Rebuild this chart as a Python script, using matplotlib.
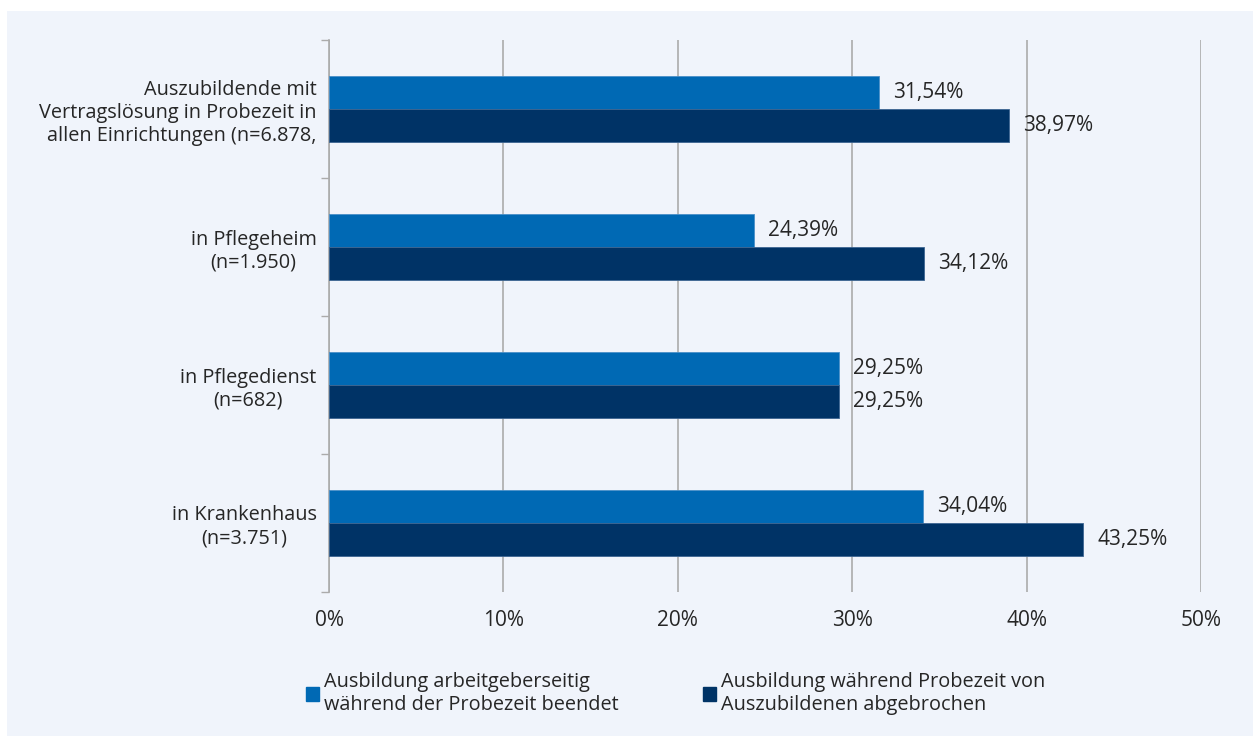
import matplotlib
matplotlib.use("Agg")
import matplotlib.pyplot as plt
from matplotlib.patches import Rectangle, Patch

# categories (top to bottom)
categories = [
    "Auszubildende mit\nVertragslösung in Probezeit in\nallen Einrichtungen (n=6.878,",
    "in Pflegeheim\n(n=1.950)",
    "in Pflegedienst\n(n=682)",
    "in Krankenhaus\n(n=3.751)",
]
employer_ended = [31.54, 24.39, 29.25, 34.04]
trainee_quit = [38.97, 34.12, 29.25, 43.25]
series_names = [
    "Ausbildung arbeitgeberseitig\nwährend der Probezeit beendet",
    "Ausbildung während Probezeit von\nAuszubildenen abgebrochen",
]
x_ticks = [0, 10, 20, 30, 40, 50]

light_blue = "#0069B4"
dark_blue = "#003366"
panel = "#F0F4FB"
text_col = "#262626"
grid_col = "#ABABAB"
fs = 14.3

plt.rcParams['font.family'] = ['Open Sans', 'DejaVu Sans']

fig = plt.figure(figsize=(12.53, 7.36), dpi=100)
fig.patch.set_facecolor("white")
# light panel behind everything
fig.patches.append(Rectangle((7 / 1253, 0), 1, 1 - 11 / 736, transform=fig.transFigure,
                             facecolor=panel, edgecolor="none", zorder=-10))

ax = fig.add_axes([329 / 1253, 1 - 592 / 736, (1201 - 329) / 1253, (592 - 40) / 736])
ax.set_facecolor("none")
ax.set_zorder(1)

h = 0.24
pos = list(range(len(categories)))
top = [p - h / 2 for p in pos]
bot = [p + h / 2 for p in pos]
b1 = ax.barh(top, employer_ended, height=h, color=light_blue, edgecolor="#4A8FC8", linewidth=0.6, zorder=3)
b2 = ax.barh(bot, trainee_quit, height=h, color=dark_blue, edgecolor="#3D6591", linewidth=0.6, zorder=3)

# value labels
for bars, vals in ((b1, employer_ended), (b2, trainee_quit)):
    for bar, v in zip(bars, vals):
        ax.annotate(f"{v:.2f}%".replace(".", ","),
                    (bar.get_width(), bar.get_y() + bar.get_height() / 2),
                    xytext=(14, 0), textcoords="offset pixels",
                    va="center", ha="left", fontsize=15, color=text_col)

ax.set_xlim(0, 50)
ax.set_ylim(len(categories) - 0.5, -0.5)
ax.set_xticks(x_ticks)
ax.set_xticklabels([f"{t}%" for t in x_ticks], fontsize=15, color=text_col)
ax.tick_params(axis="x", length=0, pad=13)

ax.set_yticks(pos)
ax.set_yticklabels(categories, fontsize=fs, color=text_col)
ax.tick_params(axis="y", length=0, pad=9)
for i, lab in enumerate(ax.get_yticklabels()):
    lab.set_multialignment("right" if i == 0 else "center")
# boundary ticks between categories
ax.set_yticks([p - 0.5 for p in range(len(categories) + 1)], minor=True)
ax.tick_params(axis="y", which="minor", length=6, width=1, color=grid_col, direction="out")

ax.grid(axis="x", color=grid_col, linewidth=1.2, zorder=0)
ax.set_axisbelow(True)
for s in ("top", "right", "bottom"):
    ax.spines[s].set_visible(False)
ax.spines["left"].set_color(grid_col)
ax.spines["left"].set_linewidth(1.2)

handles = [Patch(color=light_blue), Patch(color=dark_blue)]
fig.legend(handles, series_names, loc="upper left", bbox_to_anchor=(288 / 1253, 1 - 654 / 736),
           ncol=2, frameon=False, fontsize=fs, handlelength=0.65, handleheight=0.65,
           handletextpad=0.25, columnspacing=4.25, labelspacing=0.3, labelcolor=text_col)

fig.savefig("out.png", dpi=100, facecolor=fig.get_facecolor())
